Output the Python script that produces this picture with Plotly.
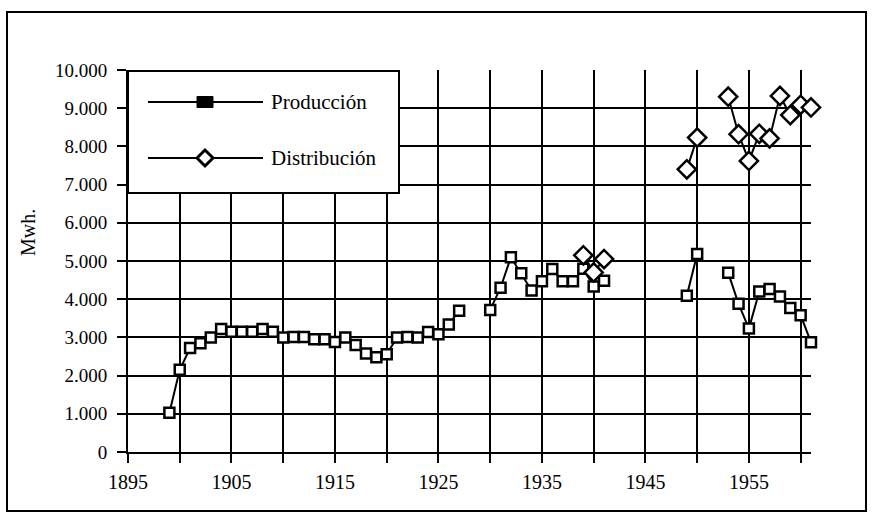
import plotly.graph_objects as go

# ---- data ----
years = list(range(1899, 1962))
produccion = [
    1030, 2150, 2720, 2850, 3000, 3220, 3150, 3150, 3150, 3220,   # 1899-1908
    3150, 3000, 3010, 3010, 2950, 2950, 2880, 3000, 2800, 2580,   # 1909-1918
    2480, 2560, 3000, 3010, 3000, 3140, 3080, 3340, 3700, None,   # 1919-1928
    None, 3720, 4300, 5100, 4680, 4230, 4470, 4790, 4470, 4470,   # 1929-1938
    4800, 4330, 4480, None, None, None, None, None, None, None,   # 1939-1948
    4090, 5180, None, None, 4690, 3880, 3230, 4200, 4270, 4070,   # 1949-1958
    3770, 3580, 2870,                                             # 1959-1961
]
distribucion = [
    None, None, None, None, None, None, None, None, None, None,   # 1899-1908
    None, None, None, None, None, None, None, None, None, None,   # 1909-1918
    None, None, None, None, None, None, None, None, None, None,   # 1919-1928
    None, None, None, None, None, None, None, None, None, None,   # 1929-1938
    5150, 4700, 5050, None, None, None, None, None, None, None,   # 1939-1948
    7400, 8230, None, None, 9300, 8320, 7620, 8330, 8210, 9320,   # 1949-1958
    8820, 9090, 9020,                                             # 1959-1961
]
x_tickvals = list(range(1895, 1961, 5))
x_ticktext = [str(v) if (v - 1895) % 10 == 0 else "" for v in x_tickvals]
y_tickvals = list(range(0, 10001, 1000))
series_names = ["Producción", "Distribución"]
y_title = "Mwh."

# ---- layout geometry (pixels) ----
W, H = 873, 523
L, R, T, B = 128, 62, 70, 71
PW, PH = W - L - R, H - T - B


def px(x):
    return (x - L) / PW


def py(y):
    return (H - B - y) / PH


FONT = "Liberation Serif"

fig = go.Figure()
fig.add_trace(go.Scatter(
    x=years, y=produccion, mode="lines+markers", name=series_names[0],
    connectgaps=False, cliponaxis=False,
    line=dict(color="black", width=2),
    marker=dict(symbol="square", size=10, color="white",
                line=dict(color="black", width=2.5)),
))
fig.add_trace(go.Scatter(
    x=years, y=distribucion, mode="lines+markers", name=series_names[1],
    connectgaps=False, cliponaxis=False,
    line=dict(color="black", width=2),
    marker=dict(symbol="diamond", size=14, color="white",
                line=dict(color="black", width=2.5)),
))

shapes = []
# outer frame
shapes.append(dict(type="rect", xref="paper", yref="paper",
                   x0=px(7), x1=px(866), y0=py(511), y1=py(12),
                   line=dict(color="black", width=2), layer="below"))
# legend box
shapes.append(dict(type="rect", xref="paper", yref="paper",
                   x0=px(128), x1=px(399), y0=py(193), y1=py(71),
                   fillcolor="white", line=dict(color="black", width=2),
                   layer="above"))
legend_rows = [102, 158]
for ly in legend_rows:
    shapes.append(dict(type="line", xref="paper", yref="paper",
                       x0=px(148), x1=px(263), y0=py(ly), y1=py(ly),
                       line=dict(color="black", width=2), layer="above"))
# legend markers
shapes.append(dict(type="rect", xref="paper", yref="paper",
                   xsizemode="pixel", ysizemode="pixel",
                   xanchor=px(205), yanchor=py(legend_rows[0]),
                   x0=-8, x1=8, y0=-5.5, y1=5.5,
                   fillcolor="black", line=dict(color="black", width=1),
                   layer="above"))
shapes.append(dict(type="path", xref="paper", yref="paper",
                   xsizemode="pixel", ysizemode="pixel",
                   xanchor=px(205), yanchor=py(legend_rows[1]),
                   path="M -8 0 L 0 8 L 8 0 L 0 -8 Z",
                   fillcolor="white", line=dict(color="black", width=3),
                   layer="above"))

annotations = [
    dict(text=series_names[0], xref="paper", yref="paper", x=px(269), y=py(legend_rows[0]),
         xanchor="left", yanchor="middle", showarrow=False,
         font=dict(family=FONT, size=21, color="black")),
    dict(text=series_names[1], xref="paper", yref="paper", x=px(269), y=py(legend_rows[1]),
         xanchor="left", yanchor="middle", showarrow=False,
         font=dict(family=FONT, size=21, color="black")),
    dict(text=y_title, xref="paper", yref="paper", x=px(28), y=py(233),
         xanchor="center", yanchor="middle", showarrow=False, textangle=-90,
         font=dict(family=FONT, size=20, color="black")),
]

fig.update_layout(
    width=W, height=H,
    margin=dict(l=L, r=R, t=T, b=B, pad=0),
    paper_bgcolor="white", plot_bgcolor="white",
    separators=",.",
    showlegend=False,
    font=dict(family=FONT, size=18, color="black"),
    shapes=shapes,
    annotations=annotations,
    xaxis=dict(
        range=[1895, 1961], tickmode="array", tickvals=x_tickvals, ticktext=x_ticktext,
        showgrid=True, gridcolor="black", gridwidth=2,
        showline=True, linecolor="black", linewidth=2,
        ticks="outside", ticklen=9, tickwidth=2, tickcolor="black",
        ticklabelstandoff=2, zeroline=False,
        tickfont=dict(family=FONT, size=20, color="black"),
    ),
    yaxis=dict(
        range=[0, 10000], tickmode="array", tickvals=y_tickvals,
        tickformat=",d",
        showgrid=True, gridcolor="black", gridwidth=2,
        showline=True, linecolor="black", linewidth=2,
        ticks="outside", ticklen=9, tickwidth=2, tickcolor="black",
        ticklabelstandoff=6, zeroline=False,
        tickfont=dict(family=FONT, size=19, color="black"),
    ),
)

fig.write_html("out.html", config={"displayModeBar": False},
               post_script="document.body.style.margin='0';document.body.style.overflow='hidden';")
